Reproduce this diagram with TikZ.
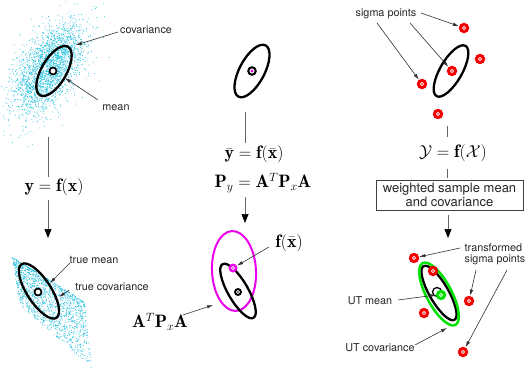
\documentclass[tikz,border=0pt]{standalone}
\usepackage{fontspec}
\setsansfont{TeX Gyre Heros}
\usetikzlibrary{arrows.meta,shapes.geometric}
\definecolor{cloud}{RGB}{40,195,225}
\definecolor{sigred}{RGB}{245,0,0}
\definecolor{mag}{RGB}{235,0,235}
\definecolor{grn}{RGB}{0,225,0}
\definecolor{lead}{RGB}{50,50,50}
\tikzset{
 lbl/.style={font=\sffamily\fontsize{10.8}{11}\selectfont, inner sep=0.5pt, text=black!85},
 mth/.style={font=\fontsize{18}{20}\selectfont, inner sep=0pt},
 leader/.style={draw=lead, line width=0.6pt, -{Latex[length=6pt,width=3.5pt]}},
 flow/.style={draw=black!60, line width=0.7pt},
 flowarr/.style={flow, -{Triangle[length=9pt,width=7pt,fill=black,black]}},
 ell/.style={draw, ellipse, line width=2.3pt, inner sep=0pt},
 meanmk/.style={circle, draw=black, fill=white, line width=1.7pt, minimum size=7pt, inner sep=0pt},
 sig/.style={circle, fill=sigred, minimum size=10.5pt, inner sep=0pt,
   path picture={\draw[white,line width=0.6pt] (path picture bounding box.center) circle (1.6pt);}},
}
\begin{document}
\begin{tikzpicture}[x=1pt,y=-1pt]
\useasboundingbox (0,0) rectangle (526,374);
\fill[white] (0,0) rectangle (526,374);
% ---------- point clouds
\begin{scope}
\clip (0,0) rectangle (526,374);
\pgfmathsetseed{7}
\foreach \i in {1,...,2400}{
  \pgfmathsetmacro\rr{sqrt(-2*ln(0.0001+0.9999*rnd))}
  \pgfmathsetmacro\th{360*rnd}
  \pgfmathsetmacro\pa{26*\rr*cos(\th)}
  \pgfmathsetmacro\pb{13.5*\rr*sin(\th)}
  \fill[cloud] ({49+\pa*cos(57)-\pb*sin(57)},{68-\pa*sin(57)-\pb*cos(57)}) circle (0.5);
}
\foreach \i in {1,...,1500}{
  \pgfmathsetmacro\s{rnd^1.15}
  \pgfmathsetmacro\t{rnd^1.5}
  \pgfmathsetmacro\px{(1-\s)*(1-\t)*12+\s*(1-\t)*85+\s*\t*92+(1-\s)*\t*20}
  \pgfmathsetmacro\py{(1-\s)*(1-\t)*257+\s*(1-\t)*302+\s*\t*368+(1-\s)*\t*305}
  \fill[cloud] (\px,\py) circle (0.5);
}
\end{scope}
% ---------- left column
\node[ell, minimum width=56pt, minimum height=25pt, rotate=60] (e1) at (54,71) {};
\node[meanmk] (m1) at (53,71) {};
\node[lbl] (cov) at (146,30) {covariance};
\node[lbl] (mean) at (116,108) {mean};
\coordinate (c1a) at (118,32);
\coordinate (c1b) at (76,45);
\draw[leader] (c1a) -- (c1b);
\coordinate (m1a) at (98,100);
\coordinate (m1b) at (65,78);
\draw[leader] (m1a) -- (m1b);
\node[mth] (fx) at (54,187) {$\mathbf{y}=\mathbf{f}(\mathbf{x})$};
\coordinate (l1a) at (48,137);
\coordinate (l1b) at (48,177);
\coordinate (l1c) at (48,200);
\coordinate (l1d) at (48,238);
\draw[flow] (l1a) -- (l1b);
\draw[flowarr] (l1c) -- (l1d);
\node[ell, minimum width=64pt, minimum height=24pt, rotate=-57] (e2) at (39,291) {};
\node[meanmk] (m2) at (38,292) {};
\node[lbl] (tmean) at (94,260) {true mean};
\node[lbl] (tcov) at (112,287) {true covariance};
\coordinate (tm1) at (70,263);
\coordinate (tm2) at (50,283);
\draw[leader] (tm1) -- (tm2);
\coordinate (tc1) at (69,290);
\coordinate (tc2) at (59,297);
\draw[leader] (tc1) -- (tc2);
% ---------- middle column
\node[ell, minimum width=58pt, minimum height=25pt, rotate=62] (e3) at (252,71) {};
\node[circle, draw=black, fill=white, line width=2pt, minimum size=7.5pt, inner sep=0pt] (m3) at (252,71) {};
\node[circle, fill=mag, minimum size=3.4pt, inner sep=0pt] (m3c) at (252,71) {};
\coordinate (l2a) at (245,112);
\coordinate (l2b) at (245,143);
\coordinate (l2c) at (245,197);
\coordinate (l2d) at (245,223);
\draw[flow] (l2a) -- (l2b);
\node[mth] (ybar) at (254,154.5) {$\bar{\mathbf{y}}=\mathbf{f}(\bar{\mathbf{x}})$};
\node[mth] (py) at (263,183) {$\mathbf{P}_y=\mathbf{A}^T\mathbf{P}_x\mathbf{A}$};
\draw[flowarr] (l2c) -- (l2d);
\node[ell, draw=mag, line width=2pt, minimum width=80pt, minimum height=44pt, rotate=93] (e4) at (234,271) {};
\node[ell, minimum width=62pt, minimum height=20pt, rotate=-60] (e5) at (238,291) {};
\node[sig, fill=black, minimum size=8pt] (m5) at (238,292) {};
\node[sig, fill=mag, minimum size=9pt] (m4) at (233,268) {};
\node[mth] (fxb) at (289,243) {$\mathbf{f}(\bar{\mathbf{x}})$};
\coordinate (f1) at (269,247);
\draw[leader] (f1) -- (m4);
\node[mth] (atpa) at (160,322) {$\mathbf{A}^T\mathbf{P}_x\mathbf{A}$};
\coordinate (a1) at (183,315);
\coordinate (a2) at (213,305);
\draw[leader] (a1) -- (a2);
% ---------- right column
\node[ell, minimum width=58pt, minimum height=22pt, rotate=60] (e6) at (451,71) {};
\node[sig] (s0) at (452,71) {};
\node[sig] (s1) at (464,28) {};
\node[sig] (s2) at (480,59) {};
\node[sig] (s3) at (422,84) {};
\node[sig] (s4) at (438,114) {};
\node[lbl] (sp) at (386,14) {sigma points};
\coordinate (sp1) at (421,13);
\coordinate (sp2) at (377,23);
\coordinate (sp3) at (410,23);
\draw[leader] (sp1) -- (s1);
\draw[leader] (sp2) -- (s3);
\draw[leader] (sp3) -- (s0);
\coordinate (l3a) at (447,126);
\coordinate (l3b) at (447,137);
\draw[flow] (l3a) -- (l3b);
\node[mth] (yx) at (453,153) {$\mathcal{Y}=\mathbf{f}(\mathcal{X})$};
\coordinate (l3c) at (447,169);
\coordinate (l3d) at (447,178);
\draw[flow] (l3c) -- (l3d);
\node[draw=black!75, line width=0.6pt, minimum width=147pt, minimum height=30pt, inner sep=0pt,
  align=center, font=\sffamily\fontsize{13}{9.5}\selectfont, text=black!85] (box) at (449.5,195)
  {weighted sample mean\\and covariance};
\coordinate (l3e) at (448,215);
\coordinate (l3f) at (448,238);
\draw[flowarr] (l3e) -- (l3f);
\node[ell, minimum width=62pt, minimum height=19pt, rotate=-60] (e7) at (439,293) {};
\node[ell, draw=grn, line width=2.5pt, minimum width=70pt, minimum height=25pt, rotate=-62] (e8) at (439,294) {};
\node[circle, draw=black, line width=1.3pt, minimum size=9pt, inner sep=0pt] (tcb) at (437,292) {};
\node[sig, fill=grn] (tc) at (441,295) {};
\node[sig] (t1) at (414,258) {};
\node[sig] (t2) at (433,271) {};
\node[sig] (t3) at (469,301) {};
\node[sig] (t4) at (424,313) {};
\node[sig] (t5) at (463,352) {};
\node[lbl, align=left] (tsp) at (495,254) {transformed\\sigma points};
\coordinate (ts1) at (460,248);
\coordinate (ts2) at (476,270);
\coordinate (ts3) at (507,270);
\draw[leader] (ts1) -- (t1);
\draw[leader] (ts2) -- (t3);
\draw[leader] (ts3) -- (t5);
\node[lbl] (utm) at (370,301) {UT mean};
\coordinate (u1) at (398,300);
\coordinate (u2) at (436,295);
\draw[leader] (u1) -- (u2);
\node[lbl] (utc) at (380,348) {UT covariance};
\coordinate (uc1) at (415,345);
\coordinate (uc2) at (447,328);
\draw[leader] (uc1) -- (uc2);
\end{tikzpicture}
\end{document}
